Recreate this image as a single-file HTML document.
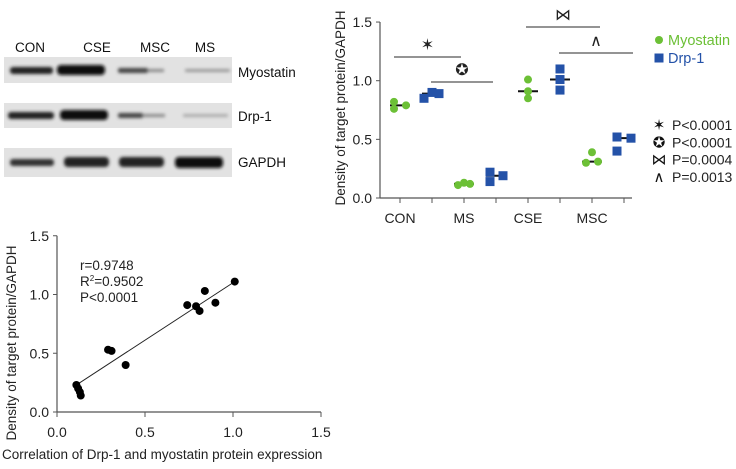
<!DOCTYPE html>
<html><head><meta charset="utf-8"><style>
body{margin:0;background:#fff;width:736px;height:464px;overflow:hidden;font-family:"Liberation Sans",sans-serif}
svg text{font-family:"Liberation Sans",sans-serif}
</style></head><body>
<svg id="s" width="736" height="464" viewBox="0 0 736 464">
<defs><filter id="bl" x="-10%" y="-100%" width="120%" height="300%"><feGaussianBlur stdDeviation="1.6"/></filter></defs>
<g id="blot" font-size="13.5" fill="#111">
<text x="30" y="52" text-anchor="middle">CON</text><text x="97" y="52" text-anchor="middle">CSE</text>
<text x="155" y="52" text-anchor="middle">MSC</text><text x="205" y="52" text-anchor="middle">MS</text>
<rect x="4" y="57" width="228" height="26" fill="#e2e2e2"/>
<rect x="4" y="103" width="228" height="25" fill="#e2e2e2"/>
<rect x="4" y="148" width="228" height="29" fill="#e2e2e2"/>
<g filter="url(#bl)">
<rect x="10" y="67" width="43" height="7" rx="3" fill="#222"/><rect x="57" y="65" width="48" height="10" rx="4" fill="#111"/>
<rect x="118" y="68" width="30" height="5" rx="2" fill="#444"/><rect x="148" y="69" width="16" height="3" fill="#888"/>
<rect x="185" y="69" width="45" height="3" rx="1" fill="#999"/>
<rect x="8" y="112" width="46" height="7" rx="3" fill="#222"/><rect x="60" y="110" width="48" height="10" rx="4" fill="#111"/>
<rect x="118" y="113" width="25" height="5" rx="2" fill="#444"/><rect x="143" y="114" width="22" height="3" fill="#888"/>
<rect x="183" y="114" width="45" height="3" rx="1" fill="#aaa"/>
<rect x="10" y="159" width="44" height="7" rx="3" fill="#333"/><rect x="64" y="157" width="45" height="10" rx="4" fill="#222"/>
<rect x="119" y="157" width="45" height="10" rx="4" fill="#222"/><rect x="175" y="157" width="48" height="11" rx="4" fill="#111"/>
</g>
<text x="238" y="77">Myostatin</text><text x="238" y="121">Drp-1</text><text x="238" y="167">GAPDH</text>
</g>
</svg>
<script>
const svg=document.getElementById('s');const NS='http://www.w3.org/2000/svg';
function mk(t,a,p){const e=document.createElementNS(NS,t);for(const k in a)e.setAttribute(k,a[k]);(p||svg).appendChild(e);return e;}
// top chart data
const groups=['CON','MS','CSE','MSC'];
const myostatin=[[0.82,0.76,0.79],[0.11,0.13,0.12],[1.01,0.91,0.85],[0.30,0.39,0.31]];
const drp1=[[0.85,0.90,0.89],[0.22,0.14,0.19],[1.10,1.01,0.92],[0.52,0.40,0.51]];
const myoMed=[0.79,0.12,0.91,0.31];
const drpMed=[0.89,0.19,1.01,0.51];
const yTicks=[0,0.5,1.0,1.5];
const pLabels=['P<0.0001','P<0.0001','P=0.0004','P=0.0013'];
const pSymbols=['\u2736','\u272A','\u22C8','\u2227'];
const ty=v=>198-v*117.3;const tx=i=>400+i*32;
const FS=14;
const topG=mk('g',{});
mk('line',{x1:380,y1:22,x2:380,y2:198,stroke:'#555','stroke-width':1.2},topG);
mk('line',{x1:380,y1:198,x2:632,y2:198,stroke:'#555','stroke-width':1.2},topG);
yTicks.forEach(v=>{mk('line',{x1:376,y1:ty(v),x2:380,y2:ty(v),stroke:'#555'},topG);
const t=mk('text',{x:372,y:ty(v)+5,'text-anchor':'end','font-size':FS,fill:'#222'},topG);t.textContent=v.toFixed(1);});
for(let i=0;i<8;i++)mk('line',{x1:tx(i),y1:198,x2:tx(i),y2:203,stroke:'#555'},topG);
groups.forEach((g,i)=>{const t=mk('text',{x:tx(2*i),y:223,'text-anchor':'middle','font-size':FS,fill:'#222'},topG);t.textContent=g;

});
const yt=mk('text',{transform:'translate(345,108) rotate(-90)','text-anchor':'middle','font-size':13.5,fill:'#222'},topG);yt.textContent='Density of target protein/GAPDH';


const myoOff=[[-6,-6,6],[-6,0,6],[0,0,0],[-6,0,6]];
const drpOff=[[-8,0,7],[-6,-6,7],[0,0,0],[-7,-7,7]];
groups.forEach((g,i)=>{
 const cx=tx(2*i),dx=tx(2*i+1);
 mk('line',{x1:cx-10,y1:ty(myoMed[i]),x2:cx+10,y2:ty(myoMed[i]),stroke:'#111','stroke-width':2},topG);
 mk('line',{x1:dx-10,y1:ty(drpMed[i]),x2:dx+10,y2:ty(drpMed[i]),stroke:'#111','stroke-width':2},topG);
 myostatin[i].forEach((v,j)=>{const c=mk('circle',{cx:cx+myoOff[i][j],cy:ty(v),r:4,fill:'#6cc036'},topG);
  
  });
 drp1[i].forEach((v,j)=>{const x=dx+drpOff[i][j];
  const r=mk('rect',{x:x-4.5,y:ty(v)-4.5,width:9,height:9,fill:'#2452a8'},topG);
  
  });
});
const sig=mk('g',{});
[[394,461,57],[431,493,82],[526,600,27],[559,633,53]].forEach((l,k)=>{mk('line',{x1:l[0],y1:l[2],x2:l[1],y2:l[2],stroke:'#555','stroke-width':1.2},sig);
 const t=mk('text',{x:(l[0]+l[1])/2,y:l[2]-7,'text-anchor':'middle','font-size':16,fill:'#222'},sig);t.textContent=pSymbols[k];});
const leg=mk('g',{});
mk('circle',{cx:659,cy:40,r:4,fill:'#6cc036'},leg);
let t=mk('text',{x:668,y:45,'font-size':14.5,fill:'#6cc036'},leg);t.textContent='Myostatin';
mk('rect',{x:654.5,y:53.5,width:9,height:9,fill:'#2452a8'},leg);
t=mk('text',{x:668,y:63,'font-size':14.5,fill:'#2452a8'},leg);t.textContent='Drp-1';
pLabels.forEach((p,k)=>{const y=130+k*17.3;let s=mk('text',{x:659,y:y,'text-anchor':'middle','font-size':15,fill:'#111'},leg);s.textContent=pSymbols[k];
 s=mk('text',{x:672,y:y,'font-size':14,fill:'#222'},leg);s.textContent=p;});
// correlation chart data
const corrX=[0.11,0.12,0.13,0.135,0.29,0.31,0.39,0.74,0.79,0.81,0.84,0.90,1.01];
const corrY=[0.23,0.20,0.17,0.14,0.53,0.52,0.40,0.91,0.90,0.86,1.03,0.93,1.11];
const fitLine=[[0.11,0.23],[1.0,1.10]];
const axTicks=[0,0.5,1.0,1.5];
const cx=v=>57+v*176,cy=v=>412-v*117.5;
const bot=mk('g',{});
mk('line',{x1:57,y1:cy(1.5),x2:57,y2:412,stroke:'#555','stroke-width':1.2},bot);
mk('line',{x1:57,y1:412,x2:cx(1.5),y2:412,stroke:'#555','stroke-width':1.2},bot);
axTicks.forEach(v=>{mk('line',{x1:53,y1:cy(v),x2:57,y2:cy(v),stroke:'#555'},bot);
 let s=mk('text',{x:49,y:cy(v)+5,'text-anchor':'end','font-size':FS,fill:'#222'},bot);s.textContent=v.toFixed(1);
 mk('line',{x1:cx(v),y1:412,x2:cx(v),y2:417,stroke:'#555'},bot);
 s=mk('text',{x:cx(v),y:437,'text-anchor':'middle','font-size':FS,fill:'#222'},bot);s.textContent=v.toFixed(1);});
mk('line',{x1:cx(fitLine[0][0]),y1:cy(fitLine[0][1]),x2:cx(fitLine[1][0]),y2:cy(fitLine[1][1]),stroke:'#222','stroke-width':1},bot);
corrX.forEach((x,i)=>{const c=mk('circle',{cx:cx(x),cy:cy(corrY[i]),r:4,fill:'#000'},bot);
 
 });
t=mk('text',{x:80,y:270,'font-size':13.5,fill:'#222'},bot);t.textContent='r=0.9748';
t=mk('text',{x:80,y:286,'font-size':13.5,fill:'#222'},bot);t.innerHTML='R<tspan font-size="8" dy="-5">2</tspan><tspan dy="5">=0.9502</tspan>';
t=mk('text',{x:80,y:302,'font-size':13.5,fill:'#222'},bot);t.textContent='P<0.0001';
t=mk('text',{transform:'translate(16,343) rotate(-90)','text-anchor':'middle','font-size':13.5,fill:'#222'},bot);t.textContent='Density of target protein/GAPDH';


t=mk('text',{x:2,y:459,'font-size':13.5,fill:'#222'},bot);t.textContent='Correlation of Drp-1 and myostatin protein expression';


</script>
</body></html>
